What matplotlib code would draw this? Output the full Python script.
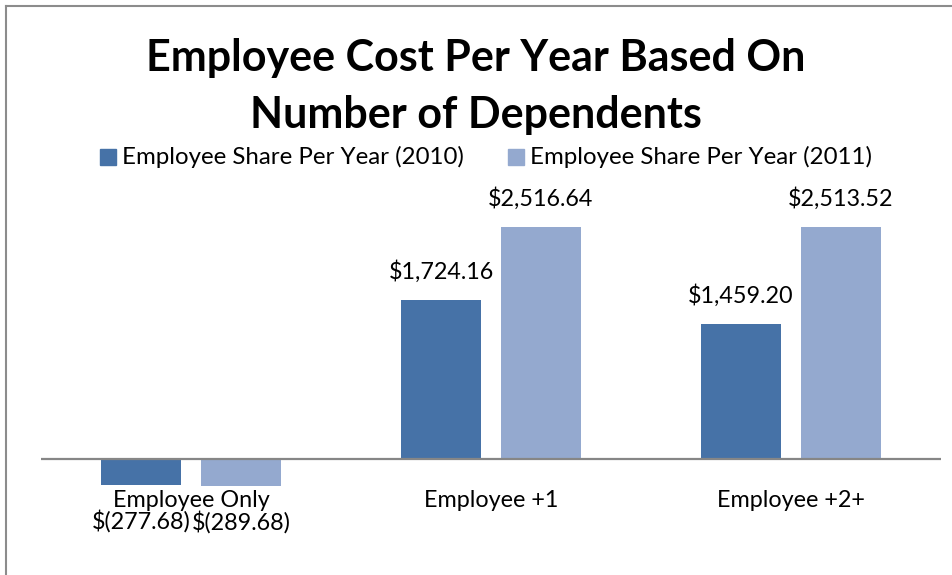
import numpy as np
import matplotlib
matplotlib.use("Agg")
import matplotlib.pyplot as plt
from matplotlib.lines import Line2D
from matplotlib.patches import Rectangle

plt.rcParams['font.family'] = ['Lato', 'DejaVu Sans']

categories = ["Employee Only", "Employee +1", "Employee +2+"]
share_2010 = [-277.68, 1724.16, 1459.20]
share_2011 = [-289.68, 2516.64, 2513.52]
series_names = ["Employee Share Per Year (2010)", "Employee Share Per Year (2011)"]
colors = ["#4672A7", "#94A9CF"]


def money(v):
    if v < 0:
        return "$({:,.2f})".format(-v)
    return "${:,.2f}".format(v)


W, H = 952, 575
fig = plt.figure(figsize=(W / 100, H / 100), dpi=100)
ax = fig.add_axes([41 / W, 1 - 532.8 / H, 900 / W, 350.4 / H])

x = np.arange(len(categories))
bw = 80 / 300
off = 50 / 300
for vals, dx, c in [(share_2010, -off, colors[0]), (share_2011, off, colors[1])]:
    bars = ax.bar(x + dx, vals, width=bw, color=c, zorder=2)
    for b, v in zip(bars, vals):
        cx = b.get_x() + b.get_width() / 2
        if v >= 0:
            ax.annotate(money(v), (cx, v), xytext=(0, 20.5), textcoords="offset points",
                        ha="center", va="center", fontsize=16.8)
        else:
            ax.annotate(money(v), (cx, v), xytext=(0, -26), textcoords="offset points",
                        ha="center", va="center", fontsize=16.8)

ax.set_xlim(-0.5, 2.5)
ax.set_ylim(-800, 3000)
ax.axhline(0, color="#868686", lw=1.6, zorder=3)
for s in ax.spines.values():
    s.set_visible(False)
ax.set_yticks([])
ax.set_xticks([])
for i, c in enumerate(categories):
    ax.annotate(c, (i, 0), xytext=(0, -29.5), textcoords="offset points",
                ha="center", va="center", fontsize=16.8)

fig.text(0.5, 1 - 58 / H, "Employee Cost Per Year Based On", ha="center", va="center",
         fontsize=31, fontweight="bold")
fig.text(0.5, 1 - 115 / H, "Number of Dependents", ha="center", va="center",
         fontsize=31, fontweight="bold")

# legend
for (lx, tx), name, c in zip([(100, 122), (508, 530)], series_names, colors):
    fig.patches.append(Rectangle((lx / W, 1 - 165 / H), 16 / W, 16 / H,
                                 transform=fig.transFigure, color=c))
    fig.text(tx / W, 1 - 157 / H, name, ha="left", va="center", fontsize=17.3)

# chart border
fig.lines.append(Line2D([6 / W, 6 / W], [0, 1 - 6 / H], transform=fig.transFigure,
                        color="#8c8c8c", lw=1.5))
fig.lines.append(Line2D([6 / W, 1], [1 - 6 / H, 1 - 6 / H], transform=fig.transFigure,
                        color="#8c8c8c", lw=1.5))

fig.savefig("out.png", dpi=100)
